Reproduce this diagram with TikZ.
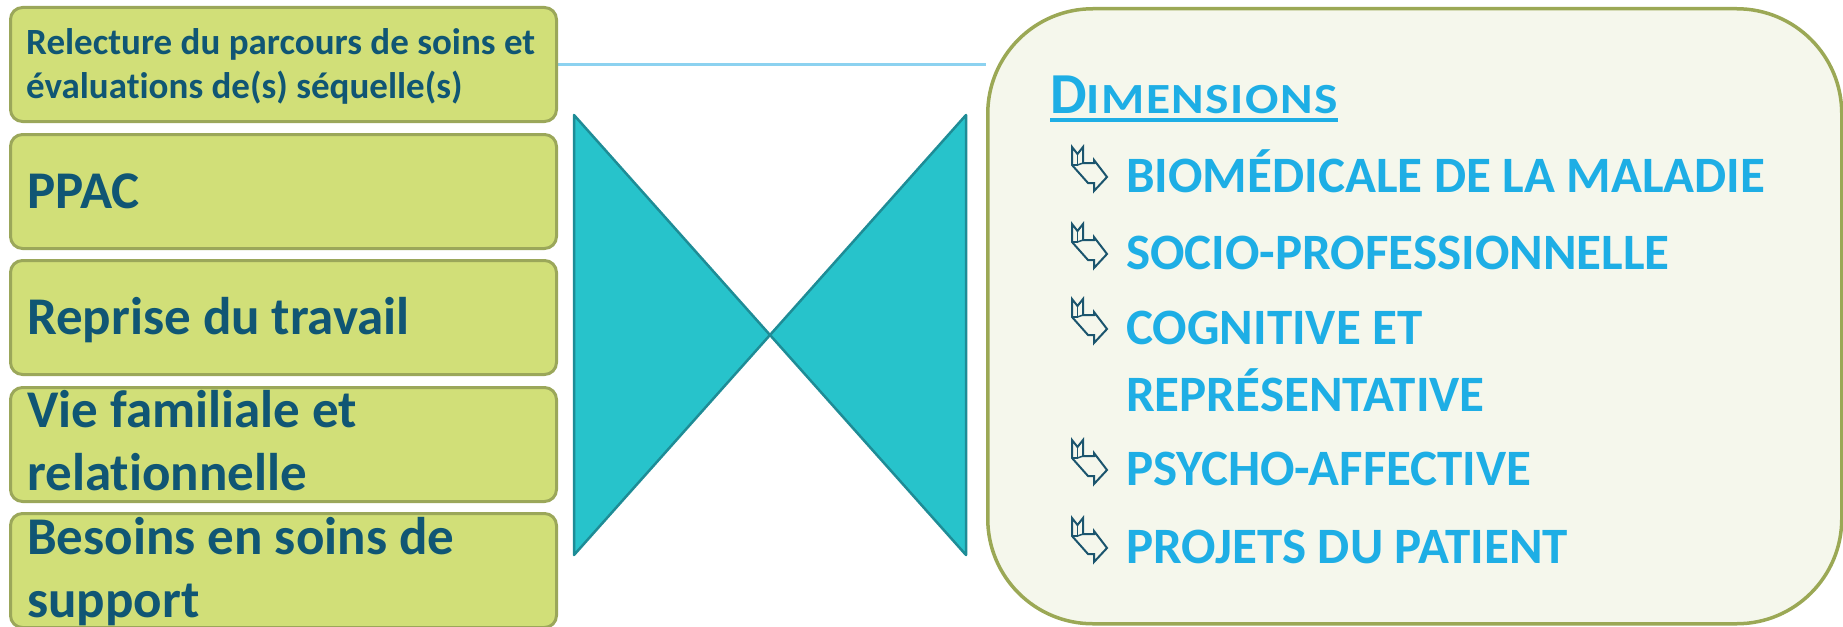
\documentclass[tikz,border=0pt]{standalone}
\usepackage{fontspec}
\setmainfont{Carlito}[Ligatures=NoCommon]
\usetikzlibrary{backgrounds}

\definecolor{boxfill}{RGB}{209,223,120}
\definecolor{boxline}{RGB}{155,167,90}
\definecolor{navytext}{RGB}{16,86,116}
\definecolor{tealfill}{RGB}{39,195,203}
\definecolor{tealline}{RGB}{30,140,150}
\definecolor{panelfill}{RGB}{245,247,236}
\definecolor{panelline}{RGB}{155,168,85}
\definecolor{skytext}{RGB}{30,174,229}
\definecolor{linkline}{RGB}{140,210,240}
\definecolor{iconline}{RGB}{27,85,110}

\tikzset{
  lbox/.style={draw=boxline, fill=boxfill, line width=3pt, rounded corners=12pt,
    minimum width=546pt, minimum height=114pt, anchor=north west, inner sep=0pt},
  ltext/.style={anchor=base west, inner sep=0pt, text=navytext,
    font=\bfseries\fontsize{53}{63}\selectfont},
  stext/.style={ltext, font=\bfseries\fontsize{37}{44}\selectfont},
  tri/.style={fill=tealfill, draw=tealline, line width=2.5pt, line join=round},
  panel/.style={draw=panelline, fill=panelfill, line width=3.5pt, rounded corners=105pt,
    minimum width=854pt, minimum height=615pt, anchor=north west, inner sep=0pt},
  item/.style={anchor=base west, inner sep=0pt, text=skytext,
    font=\bfseries\fontsize{51}{61}\selectfont},
  head/.style={anchor=base west, inner sep=0pt, text=skytext, font=\bfseries},
  link/.style={draw=linkline, line width=2pt},
  uline/.style={draw=skytext, line width=3.5pt},
  bentarrow/.pic={
    \draw[iconline, line width=2pt, line join=miter]
      (0,0) -- (5.5,7) -- (11,0) -- (11,16) -- (22,16) -- (22,13) -- (35,30)
      -- (22,44) -- (22,36) -- (16,36) -- (0,18) -- cycle;
    \draw[iconline, line width=1.5pt] (5.5,7) -- (5.5,18) -- (0,18);
    \draw[iconline, line width=1.5pt] (5.5,18) -- (11,16);
  }
}

\begin{document}
\begin{tikzpicture}[x=1pt, y=-1pt]
\useasboundingbox (0,0) rectangle (1843,626);

% left column of topics
\node[lbox] (b1) at (9,6) {};
\node[lbox] (b2) at (9,133) {};
\node[lbox] (b3) at (9,259) {};
\node[lbox] (b4) at (9,386) {};
\node[lbox] (b5) at (9,512) {};

\node[stext] (t1a) at (26,55) {Relecture du parcours de soins et};
\node[stext] (t1b) at (26,98) {évaluations de(s) séquelle(s)};
\node[ltext] (t2) at (27,208) {PPAC};
\node[ltext] (t3) at (27,334) {Reprise du travail};
\node[ltext] (t4a) at (27,427) {Vie familiale et};
\node[ltext] (t4b) at (27,490) {relationnelle};
\node[ltext] (t5a) at (27,554) {Besoins en soins de};
\node[ltext] (t5b) at (27,617) {support};

% hourglass of two triangles
\coordinate (apex) at (770,335);
\coordinate (ltop) at (574,115);
\coordinate (lbot) at (574,555);
\coordinate (rtop) at (966,115);
\coordinate (rbot) at (966,555);
\draw[tri] (ltop) -- (apex) -- (lbot) -- cycle;
\draw[tri] (rtop) -- (apex) -- (rbot) -- cycle;

% dimensions panel
\node[panel] (dim) at (986,7) {};

\begin{pgfonlayer}{background}
  \draw[link] (b1.east) -- (b1.east -| dim.west);
\end{pgfonlayer}

\node[head] (hd) at (1050,113)
  {{\fontsize{58}{62}\selectfont D}{\fontsize{43}{50}\selectfont
   \scalebox{1.15}[1]{\addfontfeature{LetterSpace=3}IMENSIONS}}};
\draw[uline] ([yshift=-7pt]hd.base west) -- ([yshift=-7pt]hd.base east);

\foreach \yb in {192,269,344,485,563}
  \pic at (1072,\yb-45) {bentarrow};

\node[item] (d1) at (1126,192) {BIOMÉDICALE DE LA MALADIE};
\node[item] (d2) at (1126,269) {SOCIO-PROFESSIONNELLE};
\node[item] (d3a) at (1126,344) {COGNITIVE ET};
\node[item] (d3b) at (1126,411) {REPRÉSENTATIVE};
\node[item] (d4) at (1126,485) {PSYCHO-AFFECTIVE};
\node[item] (d5) at (1126,563) {PROJETS DU PATIENT};
\end{tikzpicture}
\end{document}
